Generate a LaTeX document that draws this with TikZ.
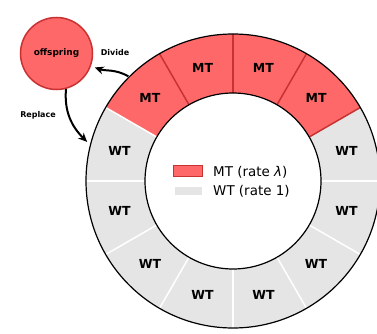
\documentclass[tikz,border=0pt]{standalone}
\usepackage{fontspec}
\setmainfont{DejaVu Sans}
\usetikzlibrary{arrows.meta}
\definecolor{mtfill}{HTML}{FF6868}
\definecolor{mtedge}{HTML}{C83232}
\definecolor{wtfill}{HTML}{E5E5E5}
\begin{document}
\begin{tikzpicture}[x=1bp,y=1bp,
  lbl/.style={font=\fontsize{12.5}{14}\selectfont\bfseries},
  leg/.style={font=\fontsize{13.5}{15}\selectfont, anchor=base west, inner sep=0},
  arr/.style={line width=2bp,-{Stealth[length=9bp,width=8bp]}},
  small/.style={font=\fontsize{8}{9}\selectfont\bfseries}]
\useasboundingbox (0,0) rectangle (377,334);
\coordinate (C) at (233,153);
\begin{scope}[shift={(C)}]
  \foreach \a in {150,180,210,240,270,300,330,360}
    \fill[wtfill] (\a:147) arc[start angle=\a,end angle=\a+30,radius=147]
      -- ({\a+30}:88) arc[start angle=\a+30,end angle=\a,radius=88] -- cycle;
  \foreach \a in {30,60,90,120}
    \fill[mtfill] (\a:147) arc[start angle=\a,end angle=\a+30,radius=147]
      -- ({\a+30}:88) arc[start angle=\a+30,end angle=\a,radius=88] -- cycle;
  \foreach \a in {150,180,210,240,270,300,330,360}
    \draw[white,line width=1.5bp] (\a:88) -- (\a:147);
  \foreach \a in {30,60,90,120}
    \draw[mtedge,line width=1.5bp] (\a:88) -- (\a:147);
  \draw[line width=1.2bp] (0,0) circle[radius=147];
  \draw[line width=1.2bp] (0,0) circle[radius=88];
  \foreach \a in {45,75,105,135}
    \node[lbl] (mt\a) at (\a:117.5) {MT};
  \foreach \a in {165,195,225,255,285,315,345,375}
    \node[lbl] (wt\a) at (\a:117.5) {WT};
  \coordinate (dv) at (135:148);
  \coordinate (rp) at (165:151);
\end{scope}
% legend
\fill[mtfill,draw=mtedge,line width=1.5bp] (173.5,157.5) rectangle (202.5,168.5);
\fill[wtfill] (175,139) rectangle (202,147);
\node[leg] (legmt) at (213,158) {MT (rate \textit{λ})};
\node[leg] (legwt) at (213,139) {WT (rate 1)};
% offspring
\node[circle, fill=mtfill, draw=mtedge, line width=1.5bp, minimum size=72bp, inner sep=0,
  font=\fontsize{9}{11}\selectfont\bfseries] (off) at (56.5,280.5) {offspring};
\node[small] (divide) at (115,281) {Divide};
\node[small] (replace) at (38,219) {Replace};
\draw[arr, shorten >=4bp] (dv) to[out=150,in=-20] (off);
\draw[arr] (off.-75) to[out=-95,in=135] (rp);
\end{tikzpicture}
\end{document}
